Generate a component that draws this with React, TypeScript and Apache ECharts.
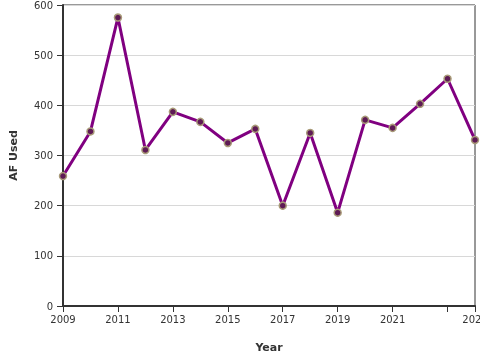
import React, { useEffect, useRef } from "react";
import * as echarts from "echarts";

const years = [2009, 2010, 2011, 2012, 2013, 2014, 2015, 2016, 2017, 2018, 2019, 2020, 2021, 2022, 2023, 2024];
const afUsed = [259, 348, 575, 311, 387, 367, 325, 353, 200, 345, 186, 371, 355, 403, 453, 331];
const xLabelValues = [2009, 2011, 2013, 2015, 2017, 2019, 2021, 2024];
const xTickValues = [2009, 2011, 2013, 2015, 2017, 2019, 2021, 2023, 2024];

export default function App() {
  const ref = useRef<HTMLDivElement>(null);
  useEffect(() => {
    if (!ref.current) return;
    const chart = echarts.init(ref.current, null, { renderer: "svg" });
    chart.setOption({
      animation: false,
      grid: {
        left: 63,
        right: 5,
        top: 5,
        bottom: 54,
        containLabel: false,
        outerBoundsMode: "none",
        show: true,
        borderColor: "#333",
        borderWidth: 1,
        backgroundColor: "transparent",
      },
      xAxis: {
        type: "value",
        min: 2009,
        max: 2024,
        name: "Year",
        nameLocation: "middle",
        nameGap: 36,
        nameTextStyle: { fontFamily: "DejaVu Sans", fontSize: 11, fontWeight: "bold", color: "#333" },
        axisLine: { show: true, lineStyle: { color: "#333", width: 2 } },
        axisTick: { show: true, length: 6, lineStyle: { color: "#333", width: 1 }, customValues: xTickValues },
        axisLabel: {
          fontFamily: "DejaVu Sans",
          fontSize: 10,
          color: "#333",
          margin: 8,
          customValues: xLabelValues,
          formatter: (v: number) => String(v),
        },
        splitLine: { show: false },
      },
      yAxis: {
        type: "value",
        min: 0,
        max: 600,
        interval: 100,
        name: "AF Used",
        nameLocation: "middle",
        nameGap: 44,
        nameTextStyle: { fontFamily: "DejaVu Sans", fontSize: 11, fontWeight: "bold", color: "#333" },
        axisLine: { show: true, lineStyle: { color: "#333", width: 2 } },
        axisTick: { show: true, length: 6, lineStyle: { color: "#333", width: 1 } },
        axisLabel: { fontFamily: "DejaVu Sans", fontSize: 10, color: "#333", margin: 10 },
        splitLine: { show: true, lineStyle: { color: "#d8d8d8", width: 1 } },
      },
      series: [
        {
          type: "line",
          data: years.map((y, i) => [y, afUsed[i]]),
          lineStyle: { color: "#800080", width: 3 },
          symbol: "circle",
          symbolSize: 7,
          itemStyle: { color: "#5e1a55", borderColor: "#a89a78", borderWidth: 1.5 },
          z: 3,
        },
      ],
    });
    return () => chart.dispose();
  }, []);
  return <div ref={ref} style={{ position: "fixed", left: 0, top: 0, width: 480, height: 360 }} />;
}
